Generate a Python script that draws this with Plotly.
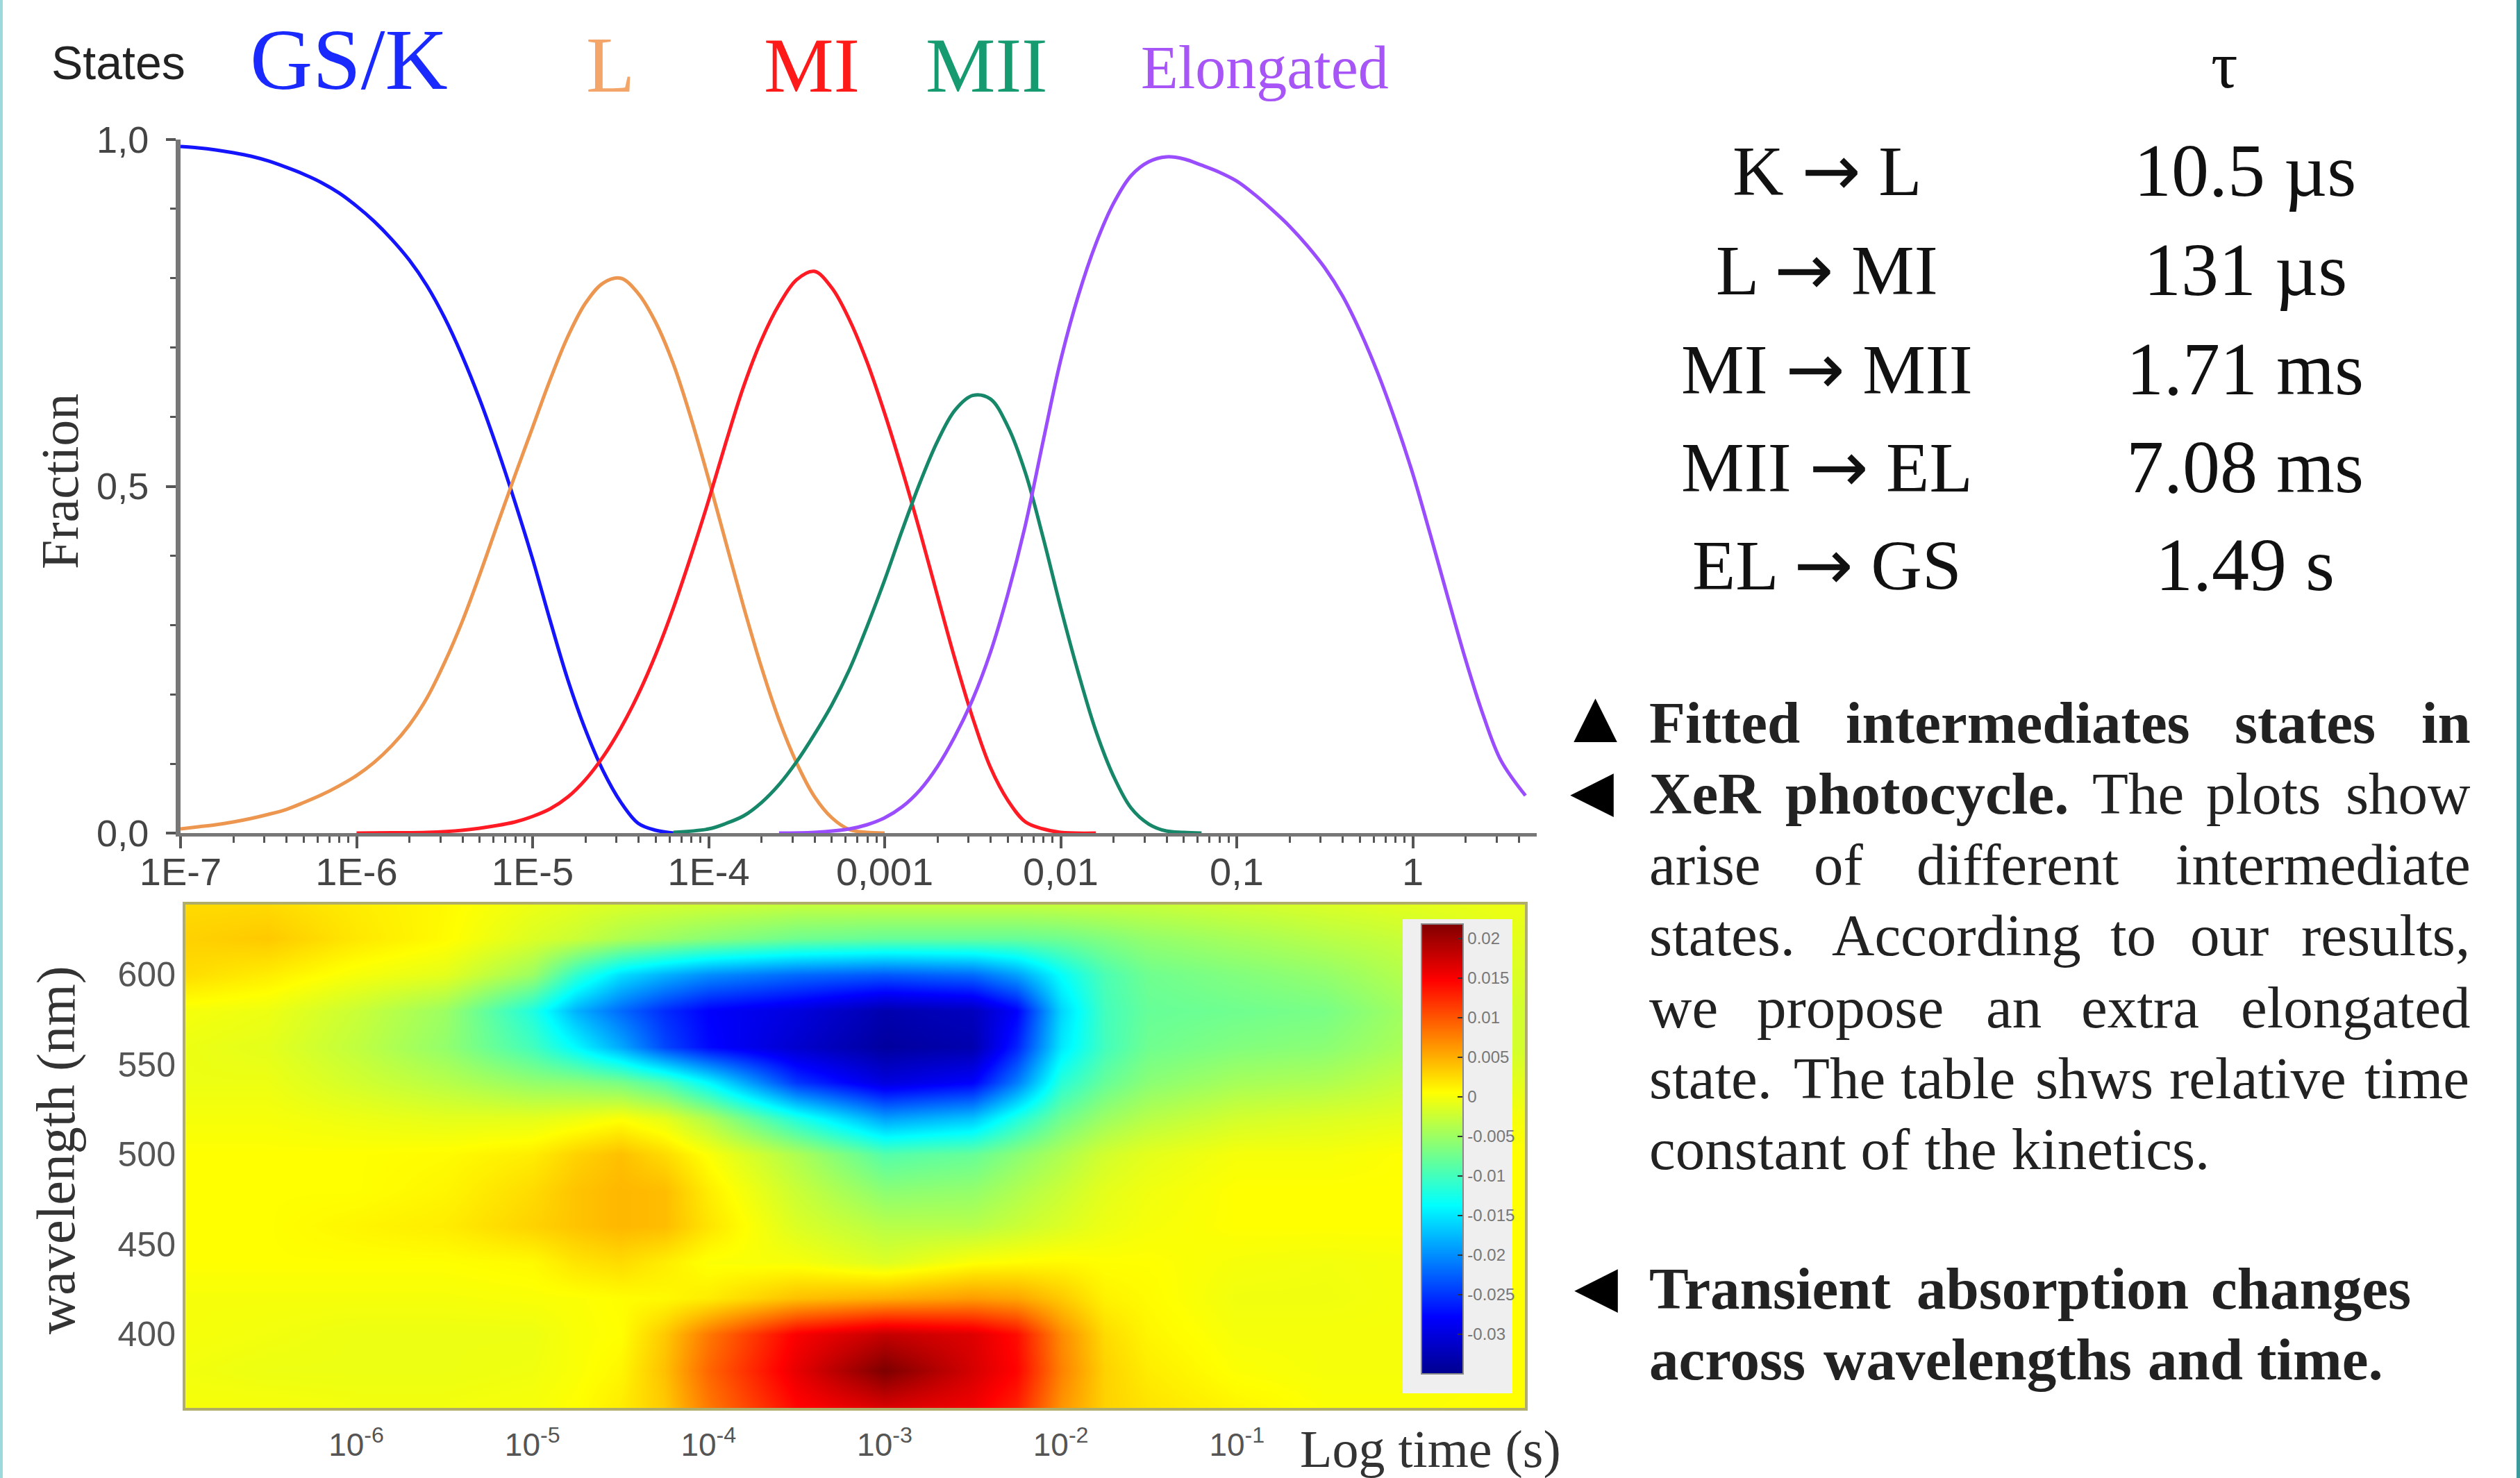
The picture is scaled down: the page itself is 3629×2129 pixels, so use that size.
import plotly.graph_objects as go

W, H = 3629, 2129
SERIF = "Liberation Serif"
SANS = "Liberation Sans"

# ---------- fitted intermediates (log10 seconds, fraction), read every 0.1 decade ----------
gs_t = [-7, -6.9, -6.8, -6.7, -6.6, -6.5, -6.4, -6.3, -6.2, -6.1, -6, -5.9, -5.8, -5.7, -5.6, -5.5, -5.4, -5.3, -5.2, -5.1, -5, -4.9, -4.8, -4.7, -4.6, -4.5, -4.4, -4.3, -4.2]
gs_f = [.99, .988, .985, .981, .976, .969, .96, .95, .938, .923, .904, .882, .856, .826, .789, .743, .688, .625, .554, .477, .395, .306, .221, .149, .09, .045, .014, .004, 0]
l_t = [-7, -6.9, -6.8, -6.7, -6.6, -6.5, -6.4, -6.3, -6.2, -6.1, -6, -5.9, -5.8, -5.7, -5.6, -5.5, -5.4, -5.3, -5.2, -5.1, -5, -4.9, -4.8, -4.7, -4.6, -4.5, -4.4, -4.3, -4.2, -4.1, -4, -3.9, -3.8, -3.7, -3.6, -3.5, -3.4, -3.3, -3.2, -3.1, -3]
l_f = [.006, .009, .012, .016, .021, .027, .034, .044, .055, .068, .083, .102, .126, .156, .195, .246, .305, .373, .445, .516, .585, .654, .716, .764, .793, .80, .778, .736, .676, .598, .51, .417, .325, .239, .163, .101, .053, .022, .005, .001, 0]
mi_t = [-6, -5.8, -5.6, -5.4, -5.2, -5.1, -5, -4.9, -4.8, -4.7, -4.6, -4.5, -4.4, -4.3, -4.2, -4.1, -4, -3.9, -3.8, -3.7, -3.6, -3.5, -3.4, -3.3, -3.2, -3.1, -3, -2.9, -2.8, -2.7, -2.6, -2.5, -2.4, -2.3, -2.2, -2.1, -2, -1.8]
mi_f = [0, .0005, .001, .004, .011, .016, .024, .035, .052, .077, .11, .151, .2, .258, .325, .40, .48, .565, .645, .711, .762, .798, .81, .786, .74, .679, .605, .523, .435, .342, .25, .166, .095, .047, .016, .006, .001, 0]
mii_t = [-4.2, -4, -3.9, -3.8, -3.7, -3.6, -3.5, -3.4, -3.3, -3.2, -3.1, -3, -2.9, -2.8, -2.7, -2.6, -2.5, -2.4, -2.3, -2.2, -2.1, -2, -1.9, -1.8, -1.7, -1.6, -1.5, -1.4, -1.3, -1.2]
mii_f = [.001, .006, .014, .025, .044, .07, .103, .142, .185, .236, .298, .365, .437, .505, .565, .61, .631, .626, .586, .519, .426, .325, .231, .147, .082, .036, .013, .003, .001, 0]
el_t = [-3.6, -3.4, -3.2, -3.1, -3, -2.9, -2.8, -2.7, -2.6, -2.5, -2.4, -2.3, -2.2, -2.1, -2, -1.9, -1.8, -1.7, -1.6, -1.5, -1.4, -1.3, -1.2, -1.1, -1, -.9, -.8, -.7, -.6, -.5, -.4, -.3, -.2, -.1, 0, .1, .2, .3, .4, .5, .64]
el_f = [0, .001, .006, .012, .022, .038, .062, .096, .14, .193, .26, .345, .445, .565, .682, .775, .85, .908, .948, .968, .975, .972, .963, .953, .94, .921, .899, .875, .847, .815, .775, .724, .664, .595, .518, .43, .339, .25, .17, .105, .054]

series_names = ["GS/K", "L", "MI", "MII", "Elongated"]
series_colors = ["#1414ff", "#ec9650", "#ff1a24", "#17876a", "#9a4dff"]
decade_vals = [1e-7, 1e-6, 1e-5, 1e-4, 1e-3, 1e-2, 1e-1, 1]
decade_labels = ["1E-7", "1E-6", "1E-5", "1E-4", "0,001", "0,01", "0,1", "1"]
fraction_ticks = [0, .5, 1]
fraction_labels = ["0,0", "0,5", "1,0"]

# ---------- transient absorption (x 1e-3), rows = wavelength, cols = log10 time ----------
log_time = [-7, -6.5, -6, -5.5, -5, -4.75, -4.5, -4.25, -4, -3.5, -3, -2.5, -2.25, -2, -1.75, -1.5, -1, -.5, 0, .5]
wavelength = [360, 380, 400, 420, 440, 460, 480, 500, 520, 540, 560, 580, 600, 620, 640]
dA_360 = [0, 0, -.2, -.2, 0, .5, 1.5, 3.5, 8, 14.5, 17, 15.5, 13, 6.5, 3, 2, 1, .3, .3, .5]
dA_380 = [-.2, -.5, -.5, -.5, -.3, .2, 1, 4, 9, 16, 22, 17, 14.5, 7.5, 3, 1.5, .3, 0, 0, .5]
dA_400 = [0, -.2, -.5, -.5, -.5, .2, .5, 3.5, 8, 15, 18, 16.5, 14, 7, 2.5, 1, 0, 0, 0, .5]
dA_420 = [0, 0, 0, 0, .2, .3, .6, .8, 1.5, 4, 5, 6, 5.5, 3.5, 1.2, .7, -.3, -.3, 0, .5]
dA_440 = [.5, .5, .5, .5, .8, 2, 2.5, 1.5, .3, 0, -1.5, .3, .6, .8, .5, .5, 0, -.2, 0, .5]
dA_460 = [.5, .5, 1, 1.5, 3, 3.8, 4.5, 4.2, 2, -1.5, -3.5, -3.5, -2.5, -1.5, -.5, 0, .5, .5, .5, .5]
dA_480 = [.5, .5, .5, 1, 2.5, 3.8, 4.5, 4.2, 1.5, -2.5, -6, -5.5, -4, -2.5, -1, -.3, .5, .5, .5, .5]
dA_500 = [.5, .5, .5, .7, 1.5, 3, 4, 2.5, .3, -4, -9, -8, -6, -4, -2, -1, 0, 0, .5, .5]
dA_520 = [0, 0, -.5, -1, -1, -.5, .3, -1, -4, -12, -19, -17, -12, -7.5, -5, -3.5, -2, -1.5, -1, 0]
dA_540 = [-.5, -.5, -2, -3.5, -5.5, -6, -7, -9.5, -14, -25, -30, -28, -21, -11.5, -8, -6, -4.5, -4, -2.5, -1]
dA_560 = [-.5, -1, -3, -5.5, -10, -14, -18.5, -24, -27.5, -31, -34, -33, -26, -15, -10, -7.5, -6.5, -6, -4, -2]
dA_580 = [0, -.5, -2.5, -5, -12, -18, -22, -25.5, -28, -30, -33, -32, -28, -16, -10, -8, -7.5, -7, -4.5, -2]
dA_600 = [2.5, 1.5, 0, -1, -5, -11, -15.5, -18, -20, -22, -23, -22, -19, -13.5, -9.5, -7.5, -6.5, -5.5, -3.5, -1.5]
dA_620 = [3, 3.5, 1.8, .7, -1.5, -2.5, -4, -5, -6, -7.5, -8, -8, -8, -7.5, -6.5, -5.5, -4.5, -3.5, -2.5, -1]
dA_640 = [2.5, 2.5, 1.5, .8, -.5, -1, -1.5, -1.8, -2, -2.5, -2.5, -2.5, -2.5, -2.5, -2.5, -2.5, -2, -1.5, -1, -.5]
dA_rows = [dA_360, dA_380, dA_400, dA_420, dA_440, dA_460, dA_480, dA_500, dA_520, dA_540, dA_560, dA_580, dA_600, dA_620, dA_640]
heat_ticks = [-6, -5, -4, -3, -2, -1]
wave_ticks = [400, 450, 500, 550, 600]
cbar_vals = [.02, .015, .01, .005, 0, -.005, -.01, -.015, -.02, -.025, -.03]
cbar_text = ["0.02", "0.015", "0.01", "0.005", "0", "-0.005", "-0.01", "-0.015", "-0.02", "-0.025", "-0.03"]

# ---------- table and text ----------
ARROW = '<span style="font-family:DejaVu Sans">→</span>'
table_steps = ["K " + ARROW + " L", "L " + ARROW + " MI", "MI " + ARROW + " MII", "MII " + ARROW + " EL", "EL " + ARROW + " GS"]
table_tau = ["10.5 µs", "131 µs", "1.71 ms", "7.08 ms", "1.49 s"]
table_rows_y = [246, 389, 531, 672, 813]
body_lines = [
    (1041, [("<b>Fitted</b>", 190), ("<b>intermediates</b>", 500), ("<b>states</b>", 1115), ("<b>in</b>", 1410)]),
    (1143, [("<b>XeR</b>", 190), ("<b>photocycle.</b>", 405), ("The", 890), ("plots", 1070), ("show", 1290)]),
    (1245, [("arise", 190), ("of", 450), ("different", 612), ("intermediate", 1022)]),
    (1347, [("states.", 190), ("According", 478), ("to", 918), ("our", 1045), ("results,", 1220)]),
    (1451, [("we", 190), ("propose", 360), ("an", 722), ("extra", 872), ("elongated", 1125)]),
    (1553, [("state.", 190), ("The", 418), ("table", 587), ("shws", 800), ("relative", 1012), ("time", 1320)]),
    (1655, [("constant of the kinetics.", 190)]),
    (1856, [("<b>Transient</b>", 190), ("<b>absorption</b>", 612), ("<b>changes</b>", 1078)]),
    (1958, [("<b>across</b>", 190), ("<b>wavelengths</b>", 465), ("<b>and</b>", 978), ("<b>time.</b>", 1150)]),
]


def px(x):
    return x / W


def py(y):
    return 1 - y / H


def note(text, x, y, size, color="#111111", family=SERIF, xanchor="center", angle=0):
    return dict(text=text, x=px(x), y=py(y), xref="paper", yref="paper", showarrow=False,
                xanchor=xanchor, yanchor="middle", textangle=angle,
                font=dict(size=size, color=color, family=family))


fig = go.Figure()
all_t = [gs_t, l_t, mi_t, mii_t, el_t]
all_f = [gs_f, l_f, mi_f, mii_f, el_f]
for name, color, t, f in zip(series_names, series_colors, all_t, all_f):
    fig.add_trace(go.Scatter(x=[10 ** v for v in t], y=f, name=name, mode="lines",
                             line=dict(color=color, width=5, shape="spline", smoothing=1.0, simplify=False),
                             showlegend=False, xaxis="x", yaxis="y"))

fig.add_trace(go.Heatmap(
    x=log_time, y=wavelength, z=[[v / 1000 for v in r] for r in dA_rows], xaxis="x2", yaxis="y2",
    zmin=-.035, zmax=.0218, zsmooth="best",
    colorscale=[[0, "rgb(0,0,143)"], [.125, "rgb(0,0,255)"], [.375, "rgb(0,255,255)"],
                [.625, "rgb(255,255,0)"], [.875, "rgb(255,0,0)"], [1, "rgb(128,0,0)"]],
    colorbar=dict(x=px(2047), xanchor="left", xpad=0, y=py(1331), yanchor="top", ypad=0,
                  len=648, lenmode="pixels", thickness=60, thicknessmode="pixels",
                  tickmode="array", tickvals=cbar_vals, ticktext=cbar_text,
                  ticks="inside", ticklen=9, tickcolor="#333333", tickwidth=2,
                  outlinecolor="#888888", outlinewidth=2,
                  tickfont=dict(size=24, family=SANS, color="#777777")),
))

minor_x = [m * 10 ** e for e in range(-7, 1) for m in range(2, 10) if m * 10 ** e < 5]
axis_col = "#777777"
fig.update_layout(
    width=W, height=H, margin=dict(l=0, r=0, t=0, b=0, autoexpand=False), paper_bgcolor="white", plot_bgcolor="white",
    xaxis=dict(type="log", domain=[px(260), px(2213)], range=[-7, .704], anchor="y", automargin=False,
               tickmode="array", tickvals=decade_vals, ticktext=decade_labels, ticks="outside",
               ticklen=17, tickwidth=4, tickcolor="#555555", showline=True, linecolor=axis_col, linewidth=5,
               showgrid=False, zeroline=False, tickfont=dict(size=56, family=SANS, color="#444444"),
               ticklabelstandoff=-14,
               minor=dict(tickmode="array", tickvals=minor_x, ticks="outside", ticklen=9, tickwidth=3,
                          tickcolor="#555555", showgrid=False)),
    yaxis=dict(domain=[py(1200), py(201)], range=[0, 1], anchor="x", automargin=False,
               tickmode="array", tickvals=fraction_ticks, ticktext=fraction_labels, ticks="outside",
               ticklen=14, tickwidth=4, tickcolor="#555555", showline=True, linecolor=axis_col, linewidth=7,
               showgrid=False, zeroline=False, tickfont=dict(size=54, family=SANS, color="#444444"),
               ticklabelstandoff=14,
               minor=dict(dtick=.1, ticks="outside", ticklen=8, tickwidth=3, tickcolor="#555555", showgrid=False)),
    xaxis2=dict(domain=[px(267), px(2196)], range=[-6.97, .635], anchor="y2", automargin=False,
                tickmode="array", tickvals=heat_ticks, ticktext=[f"10<sup>{v}</sup>" for v in heat_ticks],
                ticks="", showline=True, mirror=True, linecolor="#b0ad6a", linewidth=4, showgrid=False, zeroline=False,
                tickfont=dict(size=46, family=SANS, color="#555555"), ticklabelstandoff=10),
    yaxis2=dict(domain=[py(2028), py(1303)], range=[359, 639], anchor="x2", automargin=False,
                tickmode="array", tickvals=wave_ticks, ticks="", showline=True, mirror=True,
                linecolor="#b0ad6a", linewidth=4, showgrid=False, zeroline=False,
                tickfont=dict(size=50, family=SANS, color="#555555")),
)

shapes = [
    dict(type="rect", xref="paper", yref="paper", x0=px(2020), x1=px(2178), y0=py(2007), y1=py(1324),
         fillcolor="#efefef", line=dict(width=0), layer="above"),
    dict(type="rect", xref="paper", yref="paper", x0=0, x1=px(4), y0=0, y1=1,
         fillcolor="#9fd8dc", line=dict(width=0)),
    dict(type="rect", xref="paper", yref="paper", x0=px(3624), x1=1, y0=0, y1=1,
         fillcolor="#3d9a9a", line=dict(width=0)),
]

ann = [
    note("States", 170, 90, 68, "#222222", SANS),
    note("GS/K", 502, 86, 125, "#1a2aff"),
    note("L", 879, 93, 115, "#f4a66a"),
    note("MI", 1169, 93, 113, "#ff1a1a"),
    note("MII", 1421, 93, 113, "#169a70"),
    note("Elongated", 1821, 97, 88, "#a855f7"),
    note("τ", 3203, 93, 96),
    note("Fraction", 86, 694, 76, "#333333", angle=-90),
    note("wavelength (nm)", 80, 1657, 78, "#333333", angle=-90),
    note("Log time (s)", 2060, 2087, 76, "#333333"),
    note("▲", 2297, 1030, 82, "#000000", "DejaVu Sans"),
    note("◀", 2292, 1138, 82, "#000000", "DejaVu Sans"),
    note("◀", 2298, 1852, 82, "#000000", "DejaVu Sans"),
]
for y, a, b in zip(table_rows_y, table_steps, table_tau):
    ann.append(note(a, 2631, y, 102))
    ann.append(note(b, 3233, y, 108))
for y, words in body_lines:
    for text, zx in words:
        ann.append(note(text, 2200 + zx * 1429 / 1568, y, 85, "#222222", xanchor="left"))

fig.update_layout(shapes=shapes, annotations=ann)
fig.write_html("out.html", post_script="document.body.style.margin='0';",
               config=dict(displayModeBar=False))
